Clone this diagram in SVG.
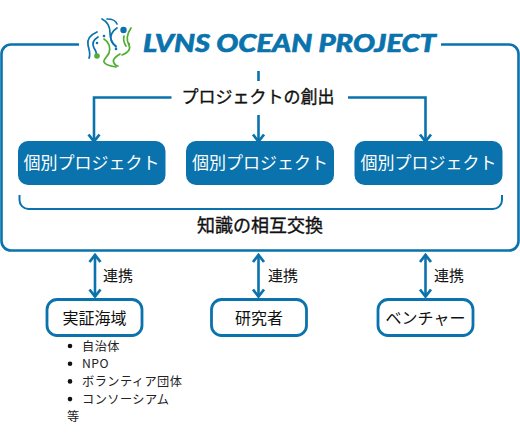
<svg xmlns="http://www.w3.org/2000/svg" width="520" height="438" viewBox="0 0 520 438">
<style>
text{font-family:"Noto Sans CJK JP","Noto Sans",sans-serif;fill:#111;text-anchor:middle}
.ln{fill:none;stroke:#0a73ad;stroke-width:2.6}
.th{fill:none;stroke:#0a73ad;stroke-width:2}
.proj rect{fill:#0a73ad}
.proj text{fill:#fff;font-size:17px}
.part rect{fill:#fff;stroke:#0a73ad;stroke-width:2.8}
.part text{font-size:16px}
.hd{stroke:#111;stroke-width:.35}
.lnk{font-size:15px}
.li{font-size:12.2px;letter-spacing:.45px;text-anchor:start;fill:#222}
.b{fill:none;stroke:#0a73ad;stroke-width:1.7;stroke-linecap:round}
.g{fill:none;stroke:#4fae32;stroke-width:1.7;stroke-linecap:round}
</style>
<defs>
<marker id="ah" markerUnits="userSpaceOnUse" markerWidth="16" markerHeight="16" refX="12" refY="8" orient="auto-start-reverse"><path d="M4.500 2.500 L11.500 8 L4.500 13.500" fill="none" stroke="#0a73ad" stroke-width="2.800"/></marker>
</defs>
<g id="frame">
<path class="ln" d="M79 44.500H11a9.500 9.500 0 0 0-9.500 9.500V241a9.500 9.500 0 0 0 9.500 9.500H509a9.500 9.500 0 0 0 9.500-9.500V54a9.500 9.500 0 0 0-9.500-9.500H441"/>
</g>
<g id="logo">
<path class="b" d="M97 32C90 35 87 40 88 45C89 50 91 54 89 58"/>
<path class="b" d="M98 37C93 40 92 44 94 48C96 51 97 53 96 55"/>
<path class="b" d="M102 19C108 22 110 27 110 33C110 38 112 43 116 47"/>
<path class="b" d="M107 19C112 19 116 21 117 24"/>
<path class="b" d="M117 28C112 31 110 36 111 40C112 43 114 45 116 46"/>
<circle cx="123.500" cy="30" r="3.200" fill="#0a73ad"/>
<circle cx="104" cy="36" r="1.300" fill="#0a73ad"/>
<circle cx="97" cy="43" r="1.300" fill="#0a73ad"/>
<circle cx="116" cy="49" r="1.300" fill="#0a73ad"/>
<path class="g" d="M104 39C109 42 111 48 109 53C107 57 103 60 104 62C105 65 110 66 116 67"/>
<path class="g" d="M120 54C115 57 112 60 114 63C115 65 117 66 118 66"/>
<path class="g" d="M131 28C127 34 126 40 129 45C131 49 128 53 122 55"/>
<path class="g" d="M124 36C123 40 124 43 126 46"/>
<circle cx="97" cy="56" r="2.800" fill="#4fae32"/>
<circle cx="129" cy="44" r="1.200" fill="#4fae32"/>
</g>
<g id="title">
<text x="143" y="52" style="font-family:'Lato','Liberation Sans',sans-serif;font-weight:900;font-style:italic;font-size:24px;fill:#0a73ad;stroke:#0a73ad;stroke-width:.6;text-anchor:start" textLength="293" lengthAdjust="spacingAndGlyphs">LVNS OCEAN PROJECT</text>
</g>
<g id="connectors">
<path class="ln" d="M258.500 71V81"/>
<path class="ln" d="M258.500 115V142" marker-end="url(#ah)"/>
<path class="ln" d="M171.500 97.500H94V142" marker-end="url(#ah)"/>
<path class="ln" d="M348 97.500H425.500V142" marker-end="url(#ah)"/>
<path class="th" d="M19.500 195V200a9 9 0 0 0 9 9H493a9 9 0 0 0 9-9V195"/>
<path class="ln" d="M95 254.500V297" marker-start="url(#ah)" marker-end="url(#ah)"/>
<path class="ln" d="M258.500 254.500V297" marker-start="url(#ah)" marker-end="url(#ah)"/>
<path class="ln" d="M425.500 254.500V297" marker-start="url(#ah)" marker-end="url(#ah)"/>
</g>
<g id="creation"><text class="hd" x="258" y="103" font-size="17">プロジェクトの創出</text></g>
<g id="project1" class="proj"><rect x="18" y="141" width="147.500" height="44" rx="10"/><text x="91.500" y="169">個別プロジェクト</text></g>
<g id="project2" class="proj"><rect x="186" y="141" width="148" height="44" rx="10"/><text x="260" y="169">個別プロジェクト</text></g>
<g id="project3" class="proj"><rect x="354.500" y="141" width="148" height="44" rx="10"/><text x="428.500" y="169">個別プロジェクト</text></g>
<g id="knowledge"><text class="hd" x="260" y="232" font-size="18">知識の相互交換</text></g>
<g id="labels">
<text class="lnk" x="118" y="281">連携</text>
<text class="lnk" x="283" y="281">連携</text>
<text class="lnk" x="449" y="281">連携</text>
</g>
<g id="field" class="part"><rect x="47" y="299.500" width="95" height="36" rx="10"/><text x="94.500" y="324">実証海域</text></g>
<g id="researcher" class="part"><rect x="211.500" y="299.500" width="95" height="36" rx="10"/><text x="259" y="324">研究者</text></g>
<g id="venture" class="part"><rect x="378" y="299.500" width="95" height="36" rx="10"/><text x="425.500" y="324">ベンチャー</text></g>
<g id="list">
<circle cx="70" cy="346" r="2.300" fill="#111"/><text class="li" x="82" y="350.500">自治体</text>
<circle cx="70" cy="363.700" r="2.300" fill="#111"/><text class="li" x="82" y="368.200">NPO</text>
<circle cx="70" cy="381.400" r="2.300" fill="#111"/><text class="li" x="82" y="385.900">ボランティア団体</text>
<circle cx="70" cy="399.100" r="2.300" fill="#111"/><text class="li" x="82" y="403.600">コンソーシアム</text>
<text class="li" x="67" y="421.300">等</text>
</g>
</svg>
